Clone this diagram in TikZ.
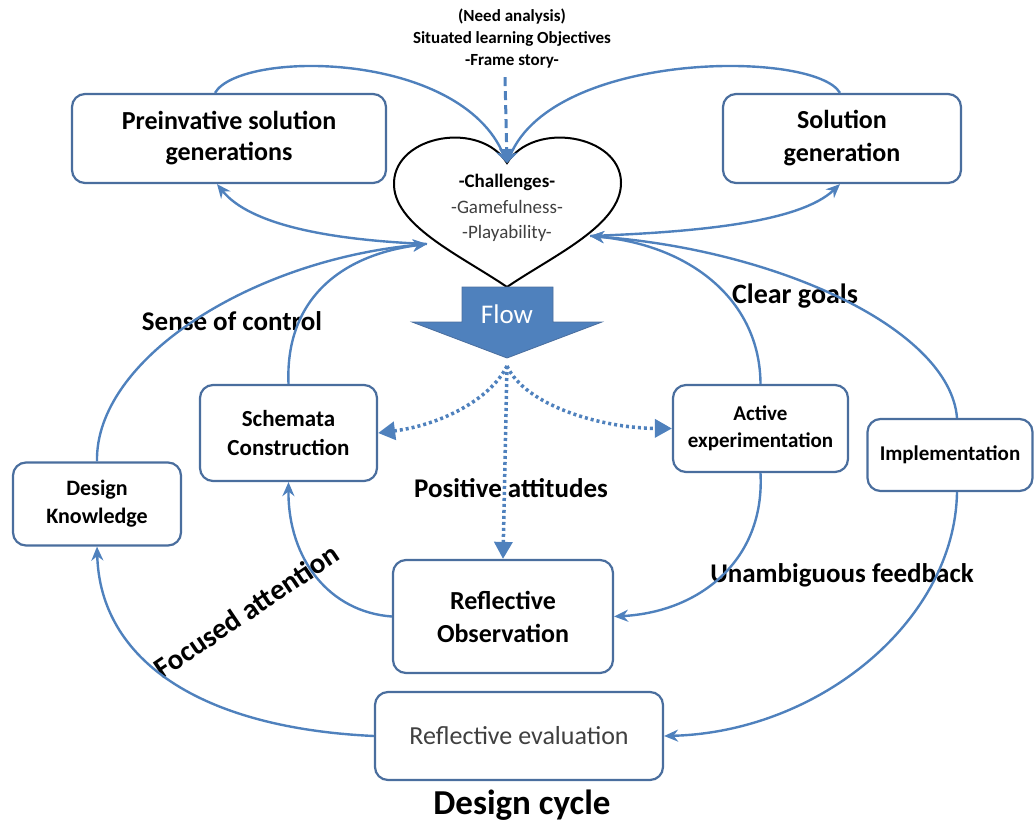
\documentclass[tikz,border=0pt]{standalone}
\usepackage{fontspec}
\setmainfont{Carlito}
\usetikzlibrary{arrows.meta}
\definecolor{linkblue}{RGB}{79,129,189}
\definecolor{boxblue}{RGB}{74,110,158}
\definecolor{softgray}{RGB}{64,64,64}

\begin{document}
\begin{tikzpicture}[x=1pt,y=-1pt,
  box/.style={draw=boxblue, line width=2.2pt, rounded corners=13pt, fill=white,
    align=center, inner sep=0pt},
  link/.style={draw=linkblue, line width=2.4pt, -{Stealth[length=14pt,width=12pt]}},
  dotlink/.style={draw=linkblue, line width=3.5pt, dash pattern=on 3pt off 3pt,
    -{Triangle[length=17pt,width=18pt]}},
  dashlink/.style={draw=linkblue, line width=3pt, dash pattern=on 9pt off 5pt,
    -{Triangle[length=14pt,width=14pt]}},
  lbl/.style={font=\bfseries\fontsize{27}{32}\selectfont},
]
\useasboundingbox (0,0) rectangle (1035,829);

% heart with the game qualities
\draw[line width=2pt, fill=white]
  (507,287) .. controls (460,255) and (392,225) .. (394,182)
  .. controls (396,135) and (480,120) .. (507,163)
  .. controls (534,120) and (620,135) .. (621,182)
  .. controls (622,225) and (554,255) .. (507,287) -- cycle;
\node[align=center, font=\fontsize{19}{25.5}\selectfont] (heart) at (507,208)
  {{\bfseries -Challenges-}\\{\color{softgray}-Gamefulness-}\\{\color{softgray}-Playability-}};
\coordinate (dip) at (507,163);
\coordinate (heartL) at (427,244);
\coordinate (heartR) at (590,236);

% flow arrow
\fill[linkblue, draw=boxblue, line width=0.8pt]
  (462,287) -- (553,287) -- (553,322) -- (602,322) -- (507,358)
  -- (412,322) -- (462,322) -- cycle;
\node[text=white, font=\fontsize{27}{30}\selectfont] (flow) at (507,314) {Flow};
\coordinate (flowtip) at (507,366);

% boxes
\node[box, minimum width=314pt, minimum height=89pt, font=\bfseries\fontsize{26}{31}\selectfont]
  (pre) at (229,138.5) {Preinvative solution\\generations};
\node[box, minimum width=238pt, minimum height=89pt, font=\bfseries\fontsize{26}{33}\selectfont]
  (sol) at (842,138.5) {Solution\\generation};
\node[box, minimum width=177pt, minimum height=96pt, font=\bfseries\fontsize{23}{29}\selectfont]
  (sch) at (288.5,433) {Schemata\\Construction};
\node[box, minimum width=168pt, minimum height=83pt, font=\bfseries\fontsize{22}{28}\selectfont]
  (dk) at (97,504) {Design\\Knowledge};
\node[box, minimum width=175pt, minimum height=87pt, font=\bfseries\fontsize{21}{27}\selectfont]
  (act) at (760.5,428.5) {Active\\experimentation};
\node[box, minimum width=165pt, minimum height=72pt, font=\bfseries\fontsize{21}{27}\selectfont]
  (imp) at (950,455) {Implementation};
\node[box, minimum width=220pt, minimum height=113pt, font=\bfseries\fontsize{26}{33}\selectfont]
  (ro) at (503,616.5) {Reflective\\Observation};
\node[box, minimum width=288pt, minimum height=88pt, font=\fontsize{26}{30}\selectfont, text=softgray]
  (re) at (519,736) {Reflective evaluation};

% texts
\node[align=center, font=\bfseries\fontsize{17}{22}\selectfont] (needs) at (512,39)
  {(Need analysis)\\Situated learning Objectives\\-Frame story-};
\node[lbl] (soc) at (232,321) {Sense of control};
\node[lbl, font=\bfseries\fontsize{28}{32}\selectfont] (cg) at (795,296) {Clear goals};
\node[lbl] (pa) at (511,488) {Positive attitudes};
\node[lbl] (uf) at (842,575) {Unambiguous feedback};
\node[lbl, font=\bfseries\fontsize{29}{32}\selectfont, rotate=34] (fa) at (246,611) {Focused attention};
\node[font=\bfseries\fontsize{35}{40}\selectfont] (dc) at (522,805) {Design cycle};

% design-cycle connectors
\draw[link] ([xshift=-14pt]pre.north) .. controls (240,50) and (460,50) .. (dip);
\draw[link] ([xshift=-2pt]sol.north) .. controls (815,50) and (555,50) .. (dip);
\draw[dashlink] ([xshift=-7pt, yshift=-5pt]needs.south) -- (dip);
\draw[link] (heartL) .. controls (330,240) and (250,225) .. ([xshift=-12pt]pre.south);
\draw[link] (heartR) .. controls (700,232) and (800,222) .. ([xshift=-2pt]sol.south);
\draw[link] (dk.north) .. controls (95,360) and (250,260) .. (heartL);
\draw[link] (sch.north) .. controls (285,300) and (340,255) .. (heartL);
\draw[link] (act.north) .. controls (760,300) and (690,245) .. (heartR);
\draw[link] ([xshift=7pt]imp.north) .. controls (950,330) and (780,250) .. (heartR);
\draw[link] (act.south) .. controls (765,560) and (700,612) .. (ro.east);
\draw[link] (ro.west) .. controls (330,612) and (288,560) .. (sch.south);
\draw[link] (re.west) .. controls (200,728) and (100,660) .. (dk.south);
\draw[link] ([xshift=7pt]imp.south) .. controls (955,620) and (820,732) .. (re.east);

% flow effects
\draw[dotlink] (flowtip) .. controls (490,400) and (440,425) .. (sch.east);
\draw[dotlink] (flowtip) .. controls (525,405) and (600,428) .. (act.west);
\draw[dotlink] (flowtip) -- (ro.north);
\end{tikzpicture}
\end{document}
